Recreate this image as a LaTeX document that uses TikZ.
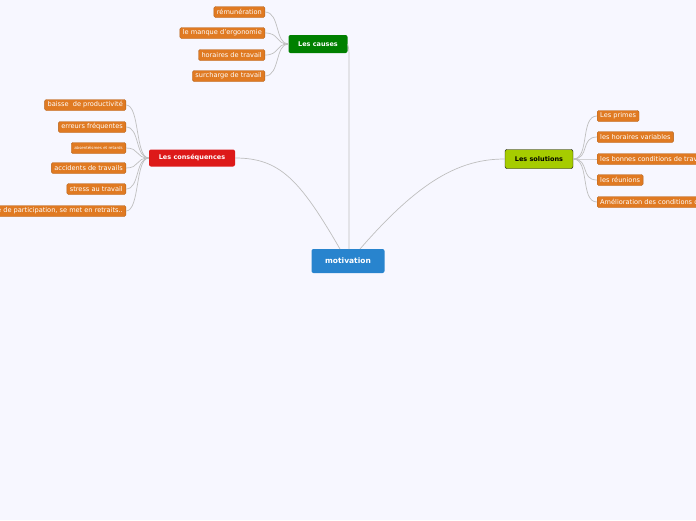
\documentclass[tikz,border=0pt]{standalone}
\usepackage{fontspec}
\setmainfont{DejaVu Sans}
\definecolor{leafc}{HTML}{E07A22}
\begin{document}
\begin{tikzpicture}[x=1pt,y=-1pt,
 leaf/.style={draw=leafc!80!black,fill=leafc,text=white,font=\fontsize{6.6}{7}\selectfont,rounded corners=1.5pt,inner xsep=3pt,inner ysep=0pt,minimum height=11pt},
 main/.style={rounded corners=2pt,font=\bfseries\fontsize{6.5}{8}\selectfont,inner xsep=5pt,inner ysep=0pt},
 con/.style={draw=gray!50,line width=0.7pt}]
\fill[blue!3] (0,0) rectangle (696,520);
\clip (0,0) rectangle (696,520);
\node[main,fill=cyan!60!blue!90!white,text=white,minimum width=73pt,minimum height=24pt,font=\bfseries\fontsize{7.5}{9}\selectfont] (m) at (348,261) {motivation};
\node[main,fill=green!50!black,text=white,minimum width=59pt,minimum height=18pt] (c) at (318,44) {Les causes};
\node[main,fill=red!85!black!90,text=white,minimum width=86pt,minimum height=17pt] (q) at (192,158) {Les conséquences};
\node[main,fill=lime!60!olive,draw=black,text=black,minimum width=68pt,minimum height=19pt] (s) at (539,159) {Les solutions};
\draw[con] (349,249) -- (349,60) .. controls (349,50) .. (c.east);
\draw[con] (340,249) .. controls (300,180) and (280,158) .. (q.east);
\draw[con] (360,249) .. controls (420,180) and (460,159) .. (s.west);
\foreach \t/\y/\n in {rémunération/12/c1,le manque d'ergonomie/33/c2,horaires de travail/55/c3,surcharge de travail/76/c4}{
 \node[leaf,anchor=east] (\n) at (265,\y) {\t};
 \draw[con] (\n.east) .. controls (280,\y) and (275,44) .. (c.west);}
\foreach \t/\y/\n in {baisse\ \ de productivité/105/q1,erreurs fréquentes/127/q2,{\fontsize{4}{5}\selectfont absentéismes et retards}/148/q3,accidents de travails/168/q4,stress au travail/189/q5,{manque de participation, se met en retraits..}/211/q6}{
 \node[leaf,anchor=east] (\n) at (126,\y) {\t};
 \draw[con] (\n.east) .. controls (140,\y) and (135,158) .. (q.west);}
\foreach \t/\y/\n in {Les primes/116/s1,les horaires variables/137/s2,les bonnes conditions de travail/159/s3,les réunions/180/s4,Amélioration des conditions de travail/202/s5}{
 \node[leaf,anchor=west] (\n) at (597,\y) {\t};
 \draw[con] (\n.west) .. controls (580,\y) and (590,159) .. (s.east);}
\end{tikzpicture}
\end{document}
